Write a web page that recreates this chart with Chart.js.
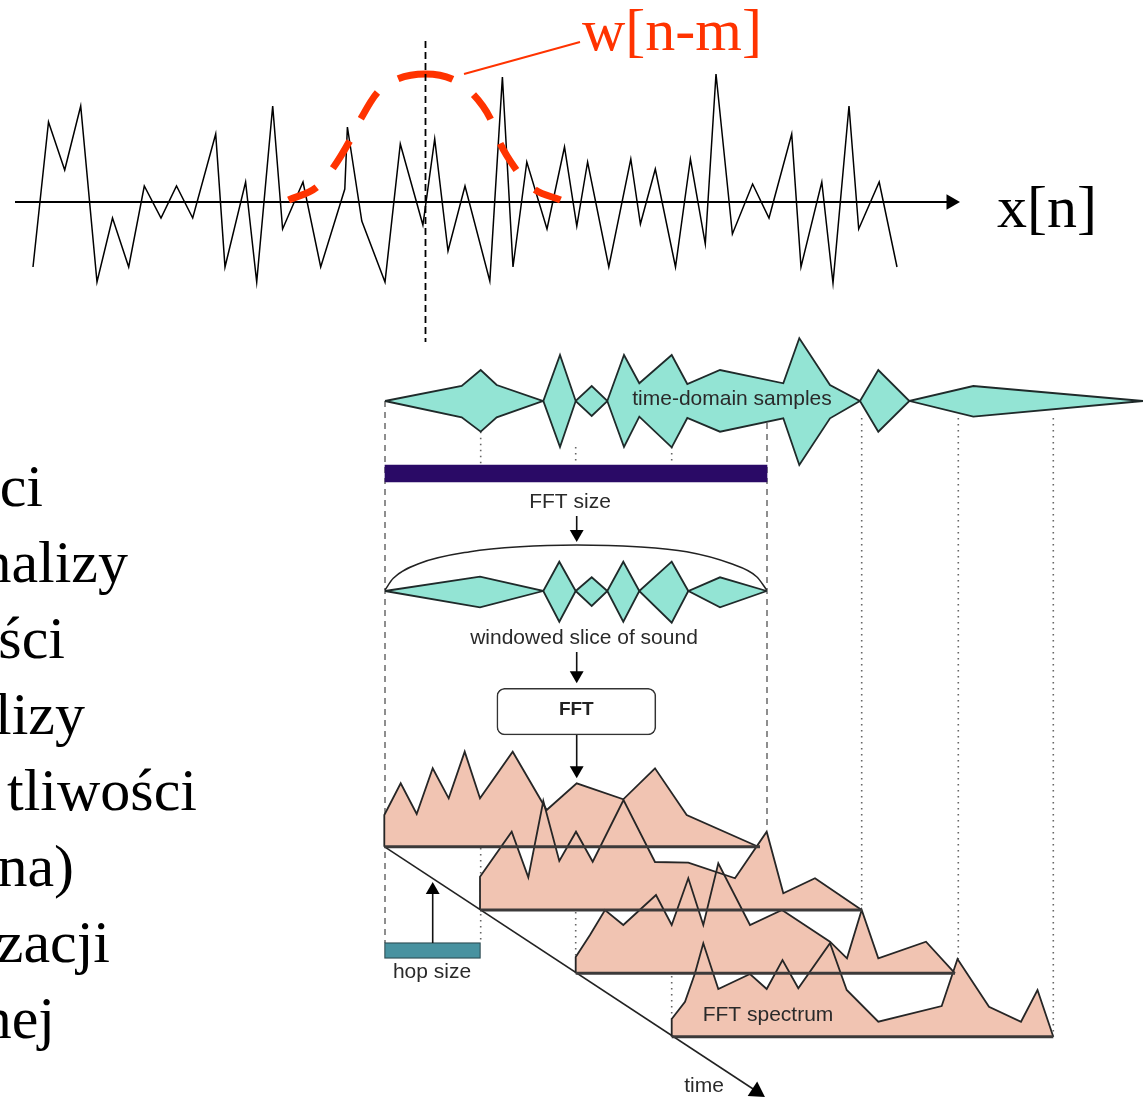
<!DOCTYPE html>
<html><head><meta charset="utf-8">
<script src="https://cdn.jsdelivr.net/npm/chart.js@4.4.1/dist/chart.umd.min.js"></script>
<style>html,body{margin:0;padding:0;background:#fff;overflow:hidden}#wrap{width:1144px;height:1099px}</style>
</head><body><div id="wrap"><canvas id="c" width="1144" height="1099"></canvas></div>
<script>
// ===== data (in picture units) =====
const signalX = [33,48.5,64.7,80.7,97,112.5,128.7,144.3,161,176.5,192.7,215.7,225,245.6,256.7,272.7,282.6,303,320.7,344.8,347.4,361.8,385,400.3,422.9,434.7,448,465,489.8,502.4,513,526.8,547,564.5,576.8,587.6,608.8,630.8,640.4,655.3,675.5,690.4,705.3,716,732.4,752.6,769,791.7,801,821.8,833,849,858.7,879.2,897];
const signalY = [267,122,170,106,282,218,267,186,218,186,218,134,267,182,282,106,229,182,267,189,127,221,282,144,225,139,251,186,281,77,267,162,229,147,226,162,267,159,224,169,267,159,244,74,234,184,218,134,267,182,283,106,229,182,267];
const signalAxisX = [15, 950];
const signalAxisY = [202, 202];
const windowX = [288.6,317,333,349.6,360.7,377,397.7,425.5,452,472.8,490,499.4,515,532.7,560.5];
const windowY = [200,187,168,141,119,93,79,74,79,94,118,142,168,188,200];
const centerLineX = [425.5, 425.5];
const centerLineY = [41, 342];
const leaderX = [464, 580];
const leaderY = [74, 42];

const tdTopX = [385,461.7,480.7,496.7,543.3,560,575.7,591.7,607.3,624,639.3,671.7,687.3,720,783.3,799.3,830,860,878.3,909.3,973.3,1143];
const tdTopY = [401,386,370,385,401,355,401,386,401,355,383.3,355,384,370,383.3,338.3,385,401,370,401,386,401];
const tdBotX = tdTopX;
const tdBotY = [401,417.3,431.7,417.3,401,447,401,416,401,447,416.7,447.3,418,431.7,418.3,465,418.3,401,431.7,401,416.7,401];

const arcX = [385,393.3,420,470,520,576.7,636.7,686.7,730,756.7,766.7];
const arcY = [590,578.3,563.3,551.7,546.7,545,546.7,551.7,563.3,576.7,590];
const winTopX = [385,480,543.3,559.3,575.7,591.7,607.3,623.3,639.3,671.7,688.3,720,766.7];
const winTopY = [591,576.7,591,561.7,591,577.3,591,561.7,591,561.7,591,577.3,591];
const winBotY = [591,607.3,591,621.7,591,606,591,621.7,591,622.7,591,607.3,591];

const spec1X = [384.3,384.3,400.7,416.7,432.7,448.7,464.7,480,512.7,546.7,576.7,623.3,655,686.7,758.3];
const spec1Y = [846.7,815,783.3,814,768.3,798.3,751.7,798.3,751.7,810,783.3,799.3,768.3,815,846.7];
const spec2X = [480,480,511.7,528.3,543.3,559.3,576,592.7,623.5,655,688.3,735,766.7,783.3,815,861.7];
const spec2Y = [910,876.7,831.7,877.3,801,861,831.7,861.7,800,862,862.7,878.3,831.7,893.3,878.3,910];
const spec3X = [575.7,575.7,590,605,623.3,656,671.7,688.3,703.3,718.3,750,782,830,847,861.7,878.3,926,955];
const spec3Y = [973.3,957,935,910,925,895,925,878.3,925,863.3,925,910,941.7,958.3,910,958.3,941.7,973.3];
const spec4X = [671.7,671.7,685,695,703.3,718.3,750,766.7,782.5,798.3,830,846.7,878.3,941.7,957.5,989,1021,1037.5,1053.3];
const spec4Y = [1036.7,1019,1001.7,973.3,943.3,989,974,989,960,988.3,943.3,990,1021.7,1006,959,1006.7,1021.7,990,1036.7];
const specBaseY = [846.7, 910, 973.3, 1036.7];
const specBaseStart = [384.3, 480, 575.7, 671.7];
const specBaseEnd = [760, 862, 955, 1053.3];

const timeAxisX = [384.3, 760];
const timeAxisY = [846.7, 1093.5];

// dashed / dotted guides: [x, yStart, yEnd]
const dashedGuides = [[385,401,943],[767,401,830]];
const dottedGuides = [[480.7,431.7,465],[480.7,848,943],[575.7,447,465],[575.7,912,957],[671.7,447,465],[671.7,976,1019],[861.7,418,910],[958.3,418,973],[1053.3,418,1036.7]];

// arrow shafts: [x1,y1,x2,y2]
const shafts = [[576.7,516,576.7,535],[576.7,652,576.7,676],[576.7,735,576.7,771],[432.7,943,432.7,890]];
// arrow heads (centres), rotation, size
const arrowX = [951,576.7,576.7,576.7,432.7,756.6];
const arrowY = [202,534,675.3,770.3,890,1091.5];
const arrowRot = [90,180,180,180,0,123.3];
const arrowR = [9,8,8,8,8,10];

// boxes: centre x, [yTop, yBottom]
const fftSizeBar = {x:576, y:[465,482]};
const hopBar = {x:432.5, y:[942.7,958.3]};
const fftBox = {x:576.35, y:[688.3,735]};

// texts
const leftLines = ["ci","nalizy","ści","lizy","tliwości","na)","zacji","nej"];
const leftLineEndX = [43,128,65,85,197,74,110,55];
const leftLineBaseY = [506,582,658,734,810,886,962,1038];
const diagramLabels = ["time-domain samples","FFT size","windowed slice of sound","hop size","FFT spectrum","time"];
const diagramLabelX = [732,570,584,432,768,704];
const diagramLabelY = [399,502,638,972,1015,1086];

// ===== build =====
const P = (xs, ys) => xs.map((x, i) => ({x, y: ys[i]}));
const datasets = [];
function addLine(data, opts, z) {
  datasets.push(Object.assign({type:'line', data, order:-z, pointRadius:0, borderWidth:1.5,
    borderColor:'#000', fill:false, tension:0}, opts));
}
const OUT = '#1f2a2a';
const TEAL = 'rgb(147,228,212)';
const SALMON = 'rgb(241,196,178)';

// guides
dashedGuides.forEach(g => addLine(P([g[0],g[0]],[g[1],g[2]]), {borderColor:'#444', borderWidth:1.2, borderDash:[6,5]}, 1));
dottedGuides.forEach(g => addLine(P([g[0],g[0]],[g[1],g[2]]), {borderColor:'#666', borderWidth:1.6, borderDash:[1.5,4.5]}, 1));

// top signal
addLine(P(signalAxisX, signalAxisY), {borderWidth:2}, 2);
addLine(P(signalX, signalY), {borderWidth:1.5}, 3);
addLine(P(windowX, windowY), {borderColor:'rgb(255,51,0)', borderWidth:7, borderCapStyle:'butt',
  cubicInterpolationMode:'monotone', borderDash:[31,25,32,25,31,25,56,26,30,26,31,27,40,80]}, 4);
addLine(P(leaderX, leaderY), {borderColor:'rgb(255,51,0)', borderWidth:2}, 4);
addLine(P(centerLineX, centerLineY), {borderWidth:1.8, borderDash:[7,4]}, 5);

// time-domain samples
addLine(P(tdTopX, tdTopY), {borderColor:OUT, borderWidth:1.8, backgroundColor:TEAL, fill:{value:401}}, 2);
addLine(P(tdBotX, tdBotY), {borderColor:OUT, borderWidth:1.8, backgroundColor:TEAL, fill:{value:401}}, 2);

// bars
datasets.push({type:'bar', data:[fftSizeBar], backgroundColor:'rgb(42,10,102)', barThickness:382, grouped:false, order:-2, borderWidth:0});
datasets.push({type:'bar', data:[hopBar], backgroundColor:'rgb(72,146,160)', borderColor:'#2a4a50', borderWidth:1.2, borderSkipped:false, barThickness:96, grouped:false, order:-2});
datasets.push({type:'bar', data:[fftBox], backgroundColor:'#fff', borderColor:'#333', borderWidth:1.6, borderSkipped:false, borderRadius:8, barThickness:159, grouped:false, order:-4});

// window
addLine(P(arcX, arcY), {borderColor:'#222', borderWidth:1.5, cubicInterpolationMode:'monotone'}, 3);
addLine(P(winTopX, winTopY), {borderColor:OUT, borderWidth:1.8, backgroundColor:TEAL, fill:{value:591}}, 3);
addLine(P(winTopX, winBotY), {borderColor:OUT, borderWidth:1.8, backgroundColor:TEAL, fill:{value:591}}, 3);

// arrow shafts
shafts.forEach(s => addLine(P([s[0],s[2]],[s[1],s[3]]), {borderColor:'#111', borderWidth:1.6}, 4));

// spectra
const specs = [[spec1X,spec1Y],[spec2X,spec2Y],[spec3X,spec3Y],[spec4X,spec4Y]];
specs.forEach((s, i) => addLine(P(s[0], s[1]), {borderWidth:0, backgroundColor:SALMON, fill:{value:specBaseY[i]}}, 5));
specs.forEach(s => addLine(P(s[0], s[1]), {borderColor:'#262626', borderWidth:1.8}, 6));
specBaseY.forEach((b, i) => addLine(P([specBaseStart[i], specBaseEnd[i]], [b, b]), {borderColor:'#3c3a3a', borderWidth:3}, 7));
addLine(P(timeAxisX, timeAxisY), {borderColor:'#222', borderWidth:1.6}, 7);

// arrow heads
datasets.push({type:'line', data:P(arrowX, arrowY), showLine:false, order:-8, pointStyle:'triangle',
  pointRadius:arrowR, pointRotation:arrowRot, pointBackgroundColor:'#000', pointBorderWidth:0, pointHoverRadius:arrowR});

// text plugin
const textPlugin = {
  id:'texts',
  afterDatasetsDraw(chart) {
    const {ctx, scales:{x, y}} = chart;
    const put = (t, px, py, font, color, align, base) => {
      ctx.save(); ctx.font = font; ctx.fillStyle = color; ctx.textAlign = align; ctx.textBaseline = base;
      ctx.fillText(t, x.getPixelForValue(px), y.getPixelForValue(py)); ctx.restore();
    };
    put('w[n-m]', 582, 50, '60px "Liberation Serif", "Times New Roman", serif', 'rgb(255,51,0)', 'left', 'alphabetic');
    put('x[n]', 997, 227, '60px "Liberation Serif", "Times New Roman", serif', '#000', 'left', 'alphabetic');
    leftLines.forEach((t, i) => put(t, leftLineEndX[i], leftLineBaseY[i], '60px "Liberation Serif", "Times New Roman", serif', '#000', 'right', 'alphabetic'));
    diagramLabels.forEach((t, i) => put(t, diagramLabelX[i], diagramLabelY[i], '21px "Liberation Sans", Arial, sans-serif', '#2a2a2a', 'center', 'middle'));
    put('FFT', 576.3, 709.5, 'bold 19px "Liberation Sans", Arial, sans-serif', '#222', 'center', 'middle');
  }
};

new Chart(document.getElementById('c'), {
  type:'line',
  data:{datasets},
  options:{
    responsive:false, maintainAspectRatio:false, animation:false, devicePixelRatio:1, events:[],
    layout:{padding:0, autoPadding:false},
    plugins:{legend:{display:false}, tooltip:{enabled:false}},
    scales:{
      x:{type:'linear', min:0, max:1144, display:false, offset:false, grid:{offset:false}},
      y:{type:'linear', min:0, max:1099, reverse:true, display:false, offset:false}
    }
  },
  plugins:[textPlugin]
});
</script></body></html>
